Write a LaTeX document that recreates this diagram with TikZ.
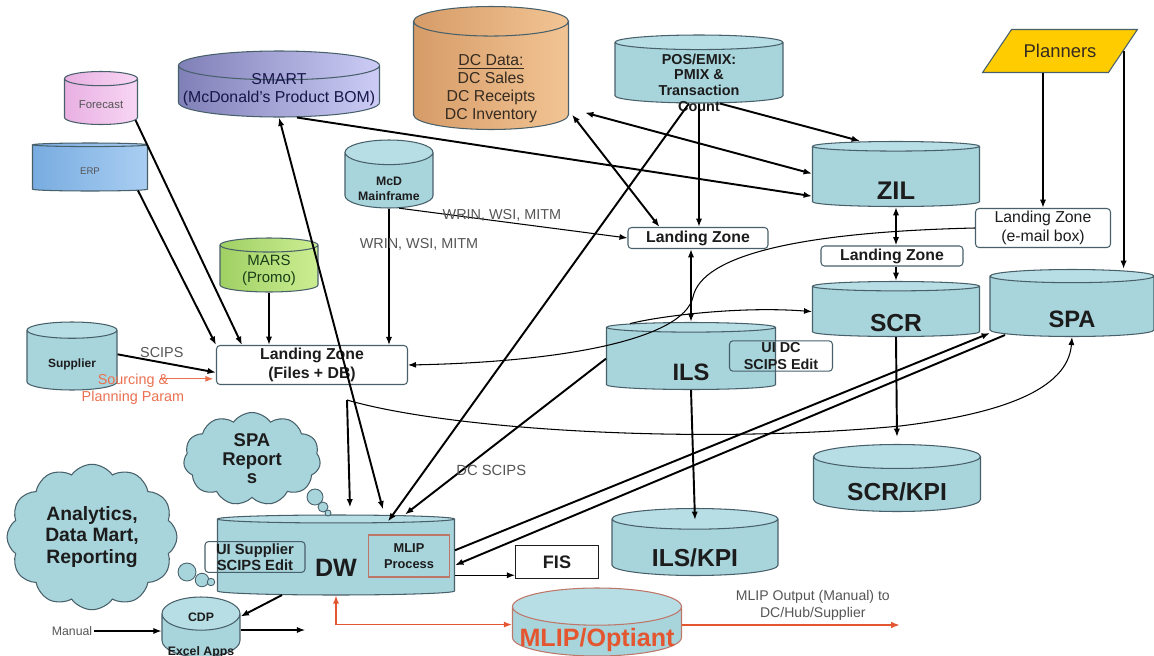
\documentclass[tikz,border=0pt]{standalone}
\usepackage{fontspec}
\setmainfont{Liberation Sans}
\usepackage{tikz}
\usetikzlibrary{arrows.meta, shapes.geometric, shapes.symbols}

\definecolor{dbfill}{RGB}{168,212,220}
\definecolor{dbtop}{RGB}{184,222,229}
\definecolor{dbline}{RGB}{72,96,106}
\definecolor{txt}{RGB}{28,28,28}
\definecolor{lblgray}{RGB}{85,85,85}
\definecolor{optred}{RGB}{228,86,48}
\definecolor{srcred}{RGB}{234,112,80}
\definecolor{mlipline}{RGB}{190,118,104}
\definecolor{planfill}{RGB}{255,204,0}
\definecolor{fcstA}{RGB}{232,176,226}
\definecolor{fcstB}{RGB}{248,214,244}
\definecolor{erpA}{RGB}{120,172,224}
\definecolor{erpB}{RGB}{170,206,242}
\definecolor{smartA}{RGB}{128,128,184}
\definecolor{smartB}{RGB}{204,204,246}
\definecolor{dcA}{RGB}{214,156,104}
\definecolor{dcB}{RGB}{242,196,148}
\definecolor{marsA}{RGB}{160,208,100}
\definecolor{marsB}{RGB}{204,238,146}

% text lowered into the body of a cylinder
\newcommand{\dbtxt}[2]{\raisebox{\dimexpr-#1-0.35em\relax}[0pt][0pt]{%
  \begin{tabular}{@{}c@{}}#2\end{tabular}}}

\tikzset{
cyl/.style = {cylinder, shape border rotate=90, aspect=#1, inner sep=0pt,
              anchor=shape center, align=center, line width=0.6pt},
cyl/.default = 0.24,
db/.style = {cyl=#1, draw=dbline, cylinder uses custom fill,
             cylinder body fill=dbfill, cylinder end fill=dbtop,
             text=txt, font=\bfseries},
db/.default = 0.24,
lz/.style = {rectangle, rounded corners=2pt, draw=dbline, fill=white,
             line width=0.6pt, text=txt, align=center, inner sep=1pt},
lbl/.style = {text=lblgray, inner sep=1pt, align=center},
link/.style = {line width=1.1pt},
thinlink/.style = {line width=0.6pt},
bubble/.style = {circle, draw=dbline, fill=dbfill, inner sep=0pt,
                 line width=0.5pt, minimum size=#1},
bubble/.default = 0.3cm,
puff/.style = {cloud, cloud puffs=#1, cloud puff arc=110, draw=dbline,
               fill=dbfill, line width=0.6pt, text=txt, align=center,
               inner sep=0pt},
puff/.default = 11
}

\begin{document}
\begin{tikzpicture}[x=0.02cm, y=-0.02cm]
  \useasboundingbox (0,0) rectangle (1154,656);

  % Source databases
    \node[cyl=0.32, draw=dbline, left color=fcstA, right color=fcstB, text=lblgray,
          minimum width=1.46cm, minimum height=1.06cm,
          font=\fontsize{6.5}{7.5}\selectfont] (fcst) at (101,98) {\dbtxt{1.3pt}{Forecast}};
    \node[cyl=0.18, draw=dbline, left color=erpA, right color=erpB, text=lblgray,
          minimum width=2.3cm, minimum height=0.96cm,
          font=\fontsize{5.5}{6.5}\selectfont] (erp) at (90,167) {\dbtxt{1.7pt}{ERP}};
    \node[cyl=0.15, draw=dbline, left color=smartA, right color=smartB, text=txt!80!blue,
          minimum width=4.02cm, minimum height=1.32cm,
          font=\fontsize{9}{10.4}\selectfont] (smart) at (279,84)
          {\dbtxt{-2pt}{SMART\\(McDonald's Product BOM)}};
    \node[cyl=0.32, draw=dbline, left color=dcA, right color=dcB, text=txt!85!brown,
          minimum width=3.1cm, minimum height=2.46cm,
          font=\fontsize{9}{10.2}\selectfont] (dc) at (491,68)
          {\dbtxt{6.6pt}{\underline{DC Data:}\\DC Sales\\DC Receipts\\DC Inventory}};
    \node[db=0.18, minimum width=3.36cm, minimum height=1.36cm,
          font=\bfseries\fontsize{8.2}{9}\selectfont] (pos) at (699,69)
          {\dbtxt{5.8pt}{POS/EMIX:\\PMIX \&\\Transaction\\Count}};
    \node[db=0.4, minimum width=1.76cm, minimum height=1.36cm,
          font=\bfseries\fontsize{7}{8.5}\selectfont] (mcd) at (389,174)
          {\dbtxt{4.9pt}{McD\\Mainframe}};
    \node[cyl=0.26, draw=dbline, left color=marsA, right color=marsB, text=txt!85!green,
          minimum width=1.96cm, minimum height=1.08cm,
          font=\fontsize{8.5}{10}\selectfont] (mars) at (269,265) {\dbtxt{0pt}{MARS\\(Promo)}};
    \node[db=0.34, minimum width=1.8cm, minimum height=1.36cm,
          font=\bfseries\fontsize{6.8}{8}\selectfont] (sup) at (72,356) {\dbtxt{1.7pt}{Supplier}};
    \node[trapezium, trapezium left angle=45, trapezium right angle=135,
          trapezium stretches=true, draw=dbline, fill=planfill, line width=0.6pt,
          minimum width=3.1cm, minimum height=0.86cm, text=txt!85!brown,
          font=\fontsize{10.5}{12}\selectfont] (planners) at (1060,51) {Planners};

  % Systems
    \node[db=0.25, minimum width=3.34cm, minimum height=1.3cm,
          font=\bfseries\fontsize{14.5}{16}\selectfont] (zil) at (896,174) {\dbtxt{8.6pt}{ZIL}};
    \node[db=0.18, minimum width=3.34cm, minimum height=1.1cm,
          font=\bfseries\fontsize{14}{16}\selectfont] (scr) at (896,309) {\dbtxt{6.9pt}{SCR}};
    \node[db=0.28, minimum width=3.28cm, minimum height=1.34cm,
          font=\bfseries\fontsize{13.5}{16}\selectfont] (spa) at (1072,303) {\dbtxt{7.5pt}{SPA}};
    \node[db=0.26, minimum width=3.38cm, minimum height=1.34cm,
          font=\bfseries\fontsize{13.5}{16}\selectfont] (ils) at (691,356) {\dbtxt{8.1pt}{ILS}};
    \node[db=0.24, minimum width=3.32cm, minimum height=1.34cm,
          font=\bfseries\fontsize{14}{16}\selectfont] (ilskpi) at (695,542) {\dbtxt{6.2pt}{ILS/KPI}};
    \node[db=0.24, minimum width=3.34cm, minimum height=1.34cm,
          font=\bfseries\fontsize{14}{16}\selectfont] (scrkpi) at (897,478) {\dbtxt{4.6pt}{SCR/KPI}};
    \node[db=0.19, minimum width=4.74cm, minimum height=1.6cm,
          font=\bfseries\fontsize{14.3}{16}\selectfont] (dw) at (336,555) {\dbtxt{6.5pt}{DW}};
    \node[db=0.5, minimum width=1.56cm, minimum height=1.2cm,
          font=\bfseries\fontsize{7}{8}\selectfont] (cdp) at (201,627)
          {\dbtxt{-0.6pt}{CDP\\[11.3pt]Excel Apps}};
    \node[db=0.24, draw=mlipline, text=optred, minimum width=3.38cm, minimum height=1.36cm,
          font=\bfseries\fontsize{14.3}{16}\selectfont] (mlipopt) at (597,622)
          {\dbtxt{4pt}{MLIP/Optiant}};

  % Landing zones and boxes
    \node[lz, minimum width=3.82cm, minimum height=0.78cm,
          font=\bfseries\fontsize{9}{10.8}\selectfont] (lzf) at (312,365)
          {Landing Zone\\(Files + DB)};
    \node[lz, minimum width=2.8cm, minimum height=0.42cm,
          font=\bfseries\fontsize{9}{10}\selectfont] (lzmid) at (698,238) {Landing Zone};
    \node[lz, minimum width=2.84cm, minimum height=0.4cm,
          font=\bfseries\fontsize{9}{10}\selectfont] (lzzil) at (892,256) {Landing Zone};
    \node[lz, minimum width=2.7cm, minimum height=0.78cm,
          font=\fontsize{9}{10.4}\selectfont] (lzem) at (1043,228)
          {Landing Zone\\(e-mail box)};
    \node[lz, fill=none, minimum width=2.06cm, minimum height=0.58cm,
          font=\bfseries\fontsize{8.2}{9.5}\selectfont] (uidc) at (781,356) {UI DC\\SCIPS Edit};
    \node[lz, fill=none, minimum width=2.0cm, minimum height=0.58cm,
          font=\bfseries\fontsize{8.4}{9.4}\selectfont] (uisup) at (255,557)
          {UI Supplier\\SCIPS Edit};
    \node[rectangle, draw=mlipline, line width=0.6pt, minimum width=1.62cm,
          minimum height=0.84cm, align=center, text=txt, inner sep=0pt,
          font=\bfseries\fontsize{7.3}{9}\selectfont] (mlipproc) at (409,556) {MLIP\\Process};
    \node[rectangle, draw=txt, fill=white, line width=0.6pt, minimum width=1.66cm,
          minimum height=0.66cm, text=txt,
          font=\bfseries\fontsize{10.3}{12}\selectfont] (fis) at (557,562) {FIS};

  % Clouds
    \node[puff=11, minimum width=2.74cm, minimum height=1.84cm,
          font=\bfseries\fontsize{10.5}{10.6}\selectfont] (sparep) at (252,459)
          {SPA\\Report\\s};
    \node[bubble=0.32cm] (sparepA) at (315,497) {};
    \node[bubble=0.2cm] (sparepB) at (323,507) {};
    \node[bubble=0.12cm] (sparepC) at (328,513) {};
    \node[puff=12, minimum width=3.4cm, minimum height=2.9cm,
          font=\bfseries\fontsize{11}{12}\selectfont] (anlyt) at (92,537)
          {Analytics,\\Data Mart,\\Reporting};
    \node[bubble=0.36cm] (anlytA) at (187,572) {};
    \node[bubble=0.27cm] (anlytB) at (202,580) {};
    \node[bubble=0.15cm] (anlytC) at (211,582) {};

  % Free labels and end points
    \node[lbl, text=srcred, font=\fontsize{8.2}{9.5}\selectfont] (srcpar) at (133,389)
          {Sourcing \&\\Planning Param};
    \node[lbl, font=\fontsize{7}{8}\selectfont] (manual) at (72,631) {Manual};
    \coordinate (fork) at (347,400);
    \coordinate (cdpend) at (305,630);
    \coordinate (mlipend) at (900,625);

  % Lines into the landing zone
    \draw[link, -{Latex[scale=0.6]}] (fcst.-28) -- ([xshift=0.52cm]lzf.north west);
    \draw[link, -{Latex[scale=0.6]}] (erp.-25) -- (lzf.north west);
    \draw[link, -{Latex[scale=0.6]}] (mars.south) -- (mars.south |- lzf.north);
    \draw[thinlink, -{Latex[scale=0.8]}] (mcd.south) -- (mcd.south |- lzf.north)
          node[lbl, pos=0.26, xshift=0.6cm, font=\fontsize{8.2}{9}\selectfont] {WRIN, WSI, MITM};
    \draw[thinlink, -{Latex[scale=0.8]}] (mcd.-70) -- (lzmid.west)
          node[lbl, pos=0.45, above=-1pt, font=\fontsize{8.2}{9}\selectfont] {WRIN, WSI, MITM};
    \draw[link, -{Latex[scale=0.6]}] ([yshift=0.12cm]sup.east) -- ([yshift=-0.15cm]lzf.west)
          node[lbl, pos=0.45, above=1pt, font=\fontsize{8.2}{9}\selectfont] {SCIPS};
    \draw[thinlink, srcred, -{Latex[scale=0.8]}]
          ([xshift=-0.52cm,yshift=-0.14cm]srcpar.north east) -- ++(53,0);

  % Lines round SMART, DC Data and POS
    \draw[link, {Latex[scale=0.6]}-{Latex[scale=0.6]}] (smart.south)
          -- ([xshift=0.94cm,yshift=0.1cm]dw.north);
    \draw[link, -{Latex[scale=0.6]}] ([xshift=0.36cm]smart.south) -- ([yshift=0.06cm]zil.195);
    \draw[link, {Latex[scale=0.6]}-{Latex[scale=0.6]}]
          ([xshift=0.32cm,yshift=-0.74cm]dc.east) -- ([yshift=0.06cm]zil.west);
    \draw[link, {Latex[scale=0.6]}-{Latex[scale=0.6]}]
          ([xshift=0.06cm,yshift=-0.78cm]dc.east) -- ([xshift=0.64cm]lzmid.north west);
    \draw[link, -{Latex[scale=0.6]}] ([xshift=0.42cm]pos.south) -- ([xshift=-0.72cm]zil.north);
    \draw[link, -{Latex[scale=0.6]}] (pos.south) -- (pos.south |- lzmid.north);
    \draw[link, -{Latex[scale=0.6]}] ([xshift=-0.2cm]pos.south)
          -- ([xshift=1.04cm,yshift=-0.14cm]dw.north);

  % Lines round ILS, ZIL, SCR and SPA
    \draw[link, {Latex[scale=0.6]}-{Latex[scale=0.6]}] (ils.north |- lzmid.south) -- (ils.north);
    \draw[link, -{Latex[scale=0.6]}] (ils.west)
          -- ([xshift=1.38cm]dw.north)
          node[lbl, pos=0.72, xshift=0.6cm, font=\fontsize{8.4}{9}\selectfont] {DC SCIPS};
    \draw[thinlink, -{Latex[scale=0.8]}] (lzem.west) .. controls (800,232) and (702,255)
          .. (693,297) .. controls (683,340) and (560,362) .. (lzf.east);
    \draw[thinlink, -{Latex[scale=0.8]}] (ils.150) .. controls (660,316) and (740,306) .. (scr.west);
    \draw[link, {Latex[scale=0.6]}-{Latex[scale=0.6]}] (zil.south) -- (zil.south |- lzzil.north);
    \draw[link, -{Latex[scale=0.6]}] (lzzil.south -| scr.north) -- (scr.north);
    \draw[link, -{Latex[scale=0.6]}] (lzem.north |- planners.south) -- (lzem.north);
    \draw[link, -{Latex[scale=0.6]}] (planners.east) -- (planners.east |- spa.north);
    \draw[link, -{Latex[scale=0.6]}] (scr.south) -- ([yshift=0.14cm]scrkpi.north);
    \draw[link, -{Latex[scale=0.6]}] (ils.south) -- ([yshift=-0.24cm]ilskpi.north);

  % Lines round DW
    \draw[link, -{Latex[scale=0.6]}] ([yshift=0.14cm]dw.east)
          -- ([xshift=-1.64cm,yshift=0.08cm]spa.south);
    \draw[link, -{Latex[scale=0.6]}] ([xshift=-1.34cm,yshift=0.04cm]spa.south)
          -- ([yshift=-0.16cm]dw.east);
    \draw[link, -{Latex[scale=0.6]}] (fork) -- ([xshift=0.28cm,yshift=0.14cm]dw.north);
    \draw[thinlink, -{Latex[scale=0.8]}] (fork) .. controls (450,430) and (700,445)
          .. (900,426) .. controls (1000,414) and (1068,390) .. (spa.south);
    \draw[thinlink, -{Latex[scale=0.8]}] ([yshift=-0.36cm]dw.east) -- ([yshift=-0.36cm]dw.east -| fis.west);
    \draw[line width=0.8pt, optred, {Latex[scale=0.7]}-{Latex[scale=0.7]}] (dw.south)
          |- ([yshift=0.14cm]mlipopt.west);
    \draw[line width=1.6pt, optred, -{Latex[scale=0.5]}] (mlipopt.east |- mlipend) -- (mlipend)
          node[lbl, pos=0.6, above=1pt, font=\fontsize{8}{9.5}\selectfont]
          {MLIP Output (Manual) to\\DC/Hub/Supplier};
    \draw[link, -{Latex[scale=0.6]}] (dw.-145) -- ([yshift=0.38cm]cdp.east);
    \draw[thinlink, -{Latex[scale=0.8]}] (manual.east) -- (manual.east -| cdp.west);
    \draw[thinlink, -{Latex[scale=0.8]}] (cdpend -| cdp.east) -- (cdpend);
\end{tikzpicture}
\end{document}
